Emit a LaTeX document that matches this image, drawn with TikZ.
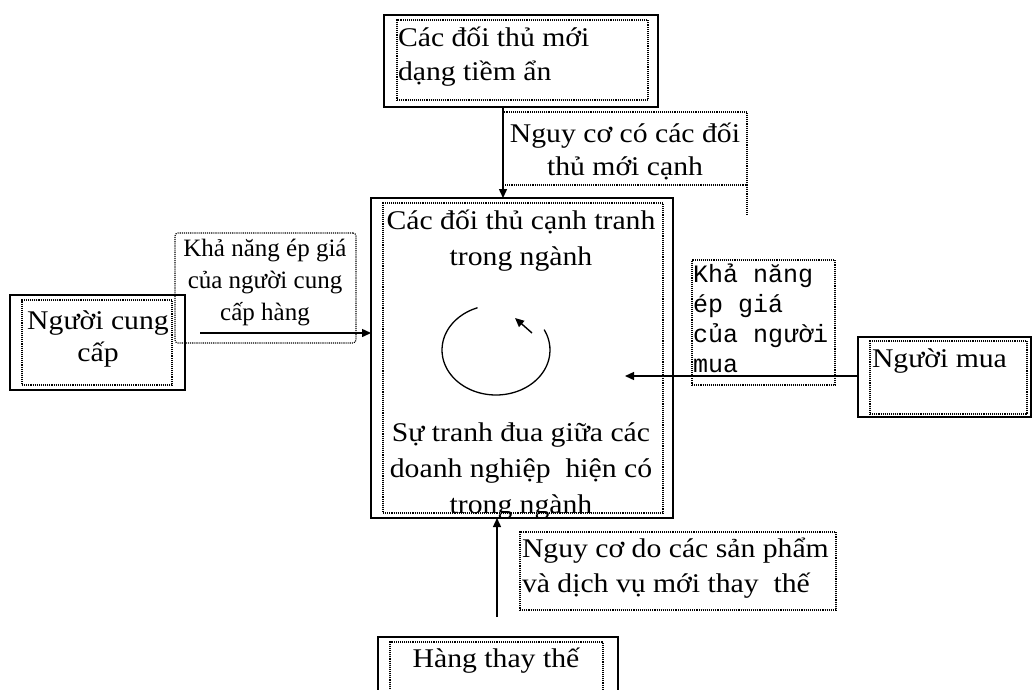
\documentclass[tikz,border=0pt]{standalone}
\usepackage{fontspec}
\setmainfont{Liberation Serif}[FakeStretch=1.1]
\newfontfamily\lblfont{Liberation Serif}
\newfontfamily\monofnt{Liberation Mono}
\usetikzlibrary{arrows.meta}
\begin{document}
\begin{tikzpicture}[x=1pt,y=-1pt,
 outerbox/.style={draw, line width=1.6pt, anchor=north west, inner sep=0pt, outer sep=0pt},
 dotbox/.style={draw, densely dotted, line width=1.1pt, anchor=north west, inner sep=0pt, outer sep=0pt},
 txt/.style={inner sep=0pt, outer sep=0pt},
 arr/.style={line width=1.4pt, -{Triangle[length=9pt,width=8pt]}},
]
\useasboundingbox (0,0) rectangle (1033,689);
\clip (0,0) rectangle (1033,689);

% boxes
\node[outerbox, minimum width=274pt, minimum height=92pt] (topbox) at (384,15) {};
\node[dotbox, minimum width=251pt, minimum height=80pt] (topin) at (397,20) {};
\node[dotbox, minimum width=244pt, minimum height=73pt] (lab1) at (503,112) {};
\draw[densely dotted, line width=1.1pt] (lab1.south east) -- ++(0,30);

\node[outerbox, minimum width=302pt, minimum height=320pt] (main) at (371,198) {};
\node[dotbox, minimum width=280pt, minimum height=310pt] (mainin) at (383,203) {};

\node[outerbox, minimum width=175pt, minimum height=95pt] (lbox) at (10,295) {};
\node[dotbox, minimum width=150pt, minimum height=85pt] (lboxin) at (22,300) {};
\node[dotbox, rounded corners=3pt, minimum width=181pt, minimum height=110pt] (lab2) at (175,233) {};

\node[dotbox, minimum width=143pt, minimum height=125pt] (lab3) at (692,260) {};
\node[outerbox, minimum width=173pt, minimum height=80pt] (rbox) at (858,337) {};
\node[dotbox, minimum width=157pt, minimum height=73pt] (rboxin) at (870,341) {};

\node[dotbox, minimum width=316pt, minimum height=78pt] (lab4) at (520,532) {};
\node[outerbox, minimum width=240pt, minimum height=70pt] (bbox) at (378,637) {};
\node[dotbox, minimum width=213pt, minimum height=70pt] (bboxin) at (390,642) {};

% arrows
\draw[arr] (lab1.west |- topbox.south) -- (lab1.west |- main.north);
\coordinate (s2) at (200,333);
\draw[arr] (s2) -- (s2 -| main.west);
\coordinate (e3) at (625,376);
\draw[arr] (e3 -| rbox.west) -- (e3);
\coordinate (s4) at (497,617);
\draw[arr] (s4) -- (s4 |- main.south);

% circular arrow
\draw[line width=1.3pt] plot[smooth, domain=110:387, samples=50] ({496+54*cos(\x)},{350-45*sin(\x)});
\coordinate (c1) at (532,333);
\coordinate (c2) at (515,318);
\draw[arr] (c1) -- (c2);

% texts (anchor base = baseline of the last line)
\node[txt, anchor=base west, align=left, font=\fontsize{27}{34}\selectfont] (t1) at (398,80) {Các đối thủ mới\\dạng tiềm ẩn};
\node[txt, anchor=base, align=center, font=\fontsize{27}{33}\selectfont] (t2) at (625,175) {Nguy cơ có các đối\\thủ mới cạnh};
\node[txt, anchor=base, align=center, font=\fontsize{27}{36}\selectfont] (t3) at (521,265) {Các đối thủ cạnh tranh\\trong ngành};
\node[txt, anchor=base, align=center, font=\fontsize{27}{36}\selectfont] (t4) at (521,513) {Sự tranh đua giữa các\\doanh nghiệp\ \ hiện có\\trong ngành};
\node[txt, anchor=base, align=center, font=\fontsize{27}{32}\selectfont] (t5) at (98,361) {Người cung\\cấp};
\node[txt, anchor=base, align=center, font=\lblfont\fontsize{25}{32}\selectfont] (t6) at (265,320) {Khả năng ép giá\\của người cung\\cấp hàng};
\node[txt, anchor=base west, align=left, font=\monofnt\fontsize{25}{30}\selectfont] (t7) at (693,372) {Khả năng\\ép giá\\của người\\mua};
\node[txt, anchor=base west, font=\fontsize{27}{32}\selectfont] (t8) at (872,367) {Người mua};
\node[txt, anchor=base west, align=left, font=\fontsize{27}{35}\selectfont] (t9) at (522,592) {Nguy cơ do các sản phẩm\\và dịch vụ mới thay\ \ thế};
\node[txt, anchor=base, font=\fontsize{27}{32}\selectfont] (t10) at (496,667) {Hàng thay thế};
\end{tikzpicture}
\end{document}
